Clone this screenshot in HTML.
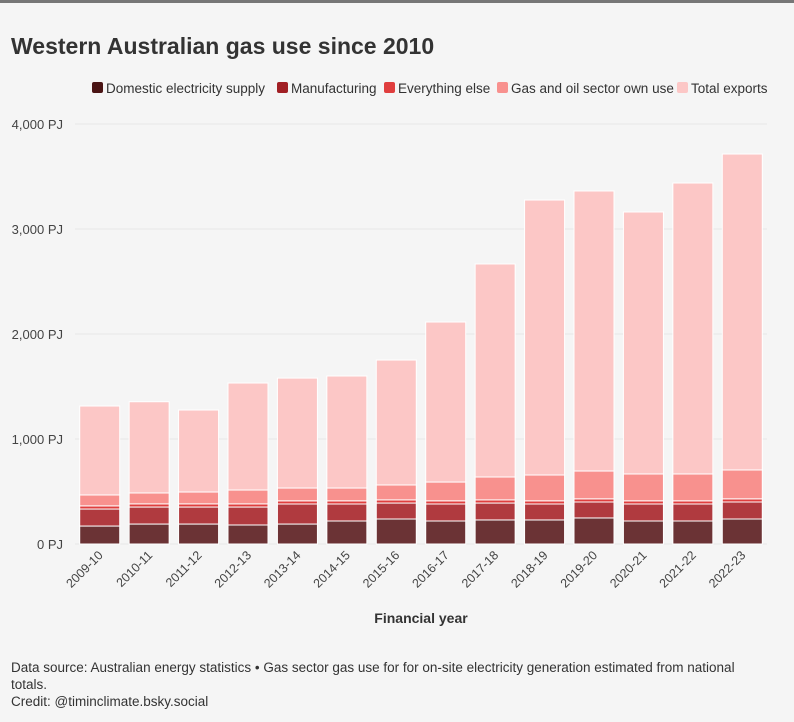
<!DOCTYPE html>
<html><head><meta charset="utf-8">
<style>
body{margin:0;background:#f5f5f5;font-family:"Liberation Sans",sans-serif;}
#wrap{width:794px;height:722px;position:relative;background:#f5f5f5;border-top:3px solid #777;box-sizing:border-box;}
</style></head>
<body>
<div id="wrap">
<svg id="chart" width="794" height="719" style="position:absolute;left:0;top:0"></svg>
</div>
<script>
const categories=["2009-10","2010-11","2011-12","2012-13","2013-14","2014-15","2015-16","2016-17","2017-18","2018-19","2019-20","2020-21","2021-22","2022-23"];
const domestic=[171,190,190,181,190,219,238,219,229,229,248,219,219,238];
const manufacturing=[162,162,162,171,191,162,152,162,161,152,152,162,162,162];
const everythingElse=[30,30,30,30,30,30,30,30,30,30,30,30,30,30];
const gasSector=[104,104,113,132,122,122,142,179,218,246,265,256,256,275];
const exportsPJ=[847,869,781,1019,1047,1067,1190,1524,2029,2619,2667,2495,2771,3009];
const yTicks=[0,1000,2000,3000,4000];
const seriesNames=["Domestic electricity supply","Manufacturing","Everything else","Gas and oil sector own use","Total exports"];
const seriesKeys=["domestic","manufacturing","everything-else","gas-sector","exports"];
const colors=["#6b3335","#b03a3f","#e03e3e","#f8918e","#fcc7c6"];
const legendColors=["#4a1414","#a11f24","#e03e3e","#f8918e","#fcc7c6"];
const series=[domestic,manufacturing,everythingElse,gasSector,exportsPJ];

const NS="http://www.w3.org/2000/svg";
const svg=document.getElementById('chart');
const OFF=3;
const x0=75,x1=767,yBase=544-OFF,yTop=124-OFF;
const yMax=4000;
function y(v){return yBase-(v/yMax)*(yBase-yTop);}
const step=(x1-x0)/categories.length, bw=40;
function bx(i){return x0+i*step+(step-bw)/2;}
function mk(tag,attrs,parent){const e=document.createElementNS(NS,tag);for(const k in attrs)e.setAttribute(k,attrs[k]);(parent||svg).appendChild(e);return e;}

let t=mk('text',{x:11,y:54-OFF,'font-size':23,'font-weight':'bold',fill:'#333'});


t.textContent="Western Australian gas use since 2010";

let lx=[92,277,384,497,677];
seriesNames.forEach((n,i)=>{
  const g=mk('g',{});
  
  
  mk('rect',{x:lx[i],y:82-OFF,width:11,height:11,rx:2,fill:legendColors[i]},g);
  const tx=mk('text',{x:lx[i]+14,y:93-OFF,'font-size':13.5,fill:'#333'},g);
  tx.textContent=n;
});

yTicks.forEach(v=>{
  const l=mk('line',{x1:x0,x2:x1,y1:y(v),y2:y(v),stroke:'#e6e6e6','stroke-width':1});
  
  
  const tx=mk('text',{x:63,y:y(v)+5,'font-size':13,fill:'#444','text-anchor':'end'});
  
  
  tx.textContent=v.toLocaleString('en-US')+" PJ";
});

categories.forEach((c,i)=>{
  let cum=0;
  series.forEach((s,k)=>{
    const v=s[i];
    const r=mk('rect',{x:bx(i),y:y(cum+v),width:bw,height:Math.max(0,y(cum)-y(cum+v)),fill:colors[k],stroke:'#fff','stroke-width':1});
    
    
    cum+=v;
  });
  const cx=bx(i)+bw/2;
  const tx=mk('text',{x:cx+4,y:556-OFF,'font-size':12.5,fill:'#444','text-anchor':'end',transform:`rotate(-45 ${cx+4} ${556-OFF})`});
  
  
  tx.textContent=c;
});

t=mk('text',{x:421,y:623-OFF,'font-size':14,'font-weight':'bold',fill:'#333','text-anchor':'middle'});


t.textContent="Financial year";

const foot=["Data source: Australian energy statistics • Gas sector gas use for for on-site electricity generation estimated from national","totals.","Credit: @timinclimate.bsky.social"];
foot.forEach((s,i)=>{
  const tx=mk('text',{x:11,y:672+i*17-OFF,'font-size':13.5,fill:'#333'});
  
  
  tx.textContent=s;
});
</script>
</body></html>
